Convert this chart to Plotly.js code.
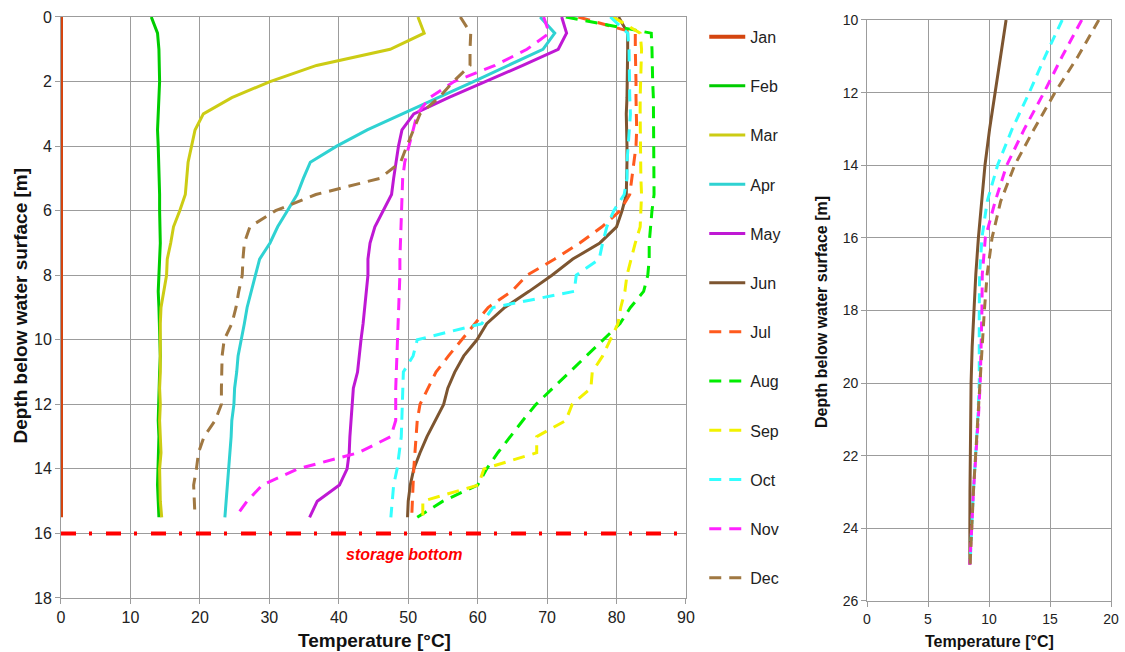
<!DOCTYPE html>
<html>
<head>
<meta charset="utf-8">
<script src="https://cdn.plot.ly/plotly-3.0.1.min.js"></script>
<style>html,body{margin:0;padding:0;background:#fff;}#chart{width:1125px;height:652px;}</style>
</head>
<body>
<div id="chart"></div>
<script>
// ---- Data: storage (left chart) ----
const depth = [0,0.5,1,1.5,2,2.5,3,3.5,4,4.5,5,5.5,6,6.5,7,7.5,8,8.5,9,9.5,10,10.5,11,11.5,12,12.5,13,13.5,14,14.5,15,15.5];
const jan = [0,0,0,0,0,0,0,0,0,0,0,0,0,0,0,0,0,0,0,0,0,0,0,0,0,0,0,0,0,0,0,0];
const feb = [13.0,13.9,14.1,14.2,14.2,14.1,14.0,13.9,14.0,14.1,14.1,14.2,14.2,14.3,14.3,14.2,14.1,14.0,14.1,14.2,14.2,14.3,14.2,14.1,14.0,14.0,14.1,14.0,13.9,13.9,14.0,14.1];
const mar = [51.4,52.3,47.4,36.8,30.1,24.6,20.5,19.3,18.8,18.3,18.1,17.9,17.1,16.2,15.8,15.3,15.2,14.8,14.4,14.3,14.3,14.4,14.3,14.2,14.3,14.2,14.3,14.4,14.2,14.2,14.3,14.5];
const apr = [69.0,71.1,69.4,64.5,59.4,54.3,49.2,44.1,39.7,35.9,34.9,34.0,32.6,31.2,30.1,28.6,28.0,27.4,26.8,26.4,25.9,25.5,25.3,25.0,24.9,24.6,24.5,24.3,24.1,23.9,23.7,23.6];
const may = [72.1,72.8,71.6,66.5,61.1,55.8,50.8,49.1,48.6,48.2,47.9,47.6,46.4,45.2,44.5,44.2,44.2,44.0,43.8,43.5,43.2,42.9,42.7,42.1,41.9,41.7,41.6,41.5,41.2,40.1,36.9,35.8];
const jun = [80.3,81.6,81.6,81.6,81.5,81.5,81.4,81.5,81.5,81.5,81.4,81.4,80.8,80.0,77.6,73.7,70.7,67.4,63.9,61.3,59.9,58.0,56.7,55.7,55.1,53.9,52.7,51.7,50.8,50.3,50.0,49.9];
const jul = [74.5,82.7,82.7,82.8,82.8,82.8,82.9,82.9,82.8,82.5,82.3,81.9,80.5,77.9,74.7,71.1,67.1,64.9,61.5,59.6,57.6,55.8,54.0,52.8,51.7,51.3,51.1,50.9,50.8,50.7,50.6,50.5];
const aug = [72.7,85.0,85.1,85.1,85.2,85.3,85.3,85.4,85.4,85.3,85.3,85.4,85.1,84.9,84.7,84.7,84.5,83.9,82.0,80.5,78.1,75.7,73.3,70.8,68.4,66.5,64.7,62.9,61.3,60.0,55.0,51.3];
const sep = [79.5,83.4,83.6,83.5,83.5,83.4,83.4,83.4,83.4,83.4,83.5,83.6,83.5,83.4,82.7,82.1,81.5,81.2,80.6,80.2,79.1,78.0,76.5,76.3,73.6,72.7,68.5,68.5,60.9,60.1,52.1,52.1];
const oct = [79.1,81.6,81.8,81.8,81.9,81.9,82.0,81.8,81.7,81.5,81.5,81.1,79.6,78.6,78.0,77.5,74.2,73.9,62.2,60.6,51.3,50.7,49.3,49.2,49.2,49.1,49.0,48.7,48.4,47.9,47.7,47.5];
const nov = [69.5,70.3,67.1,62.5,56.6,53.1,51.3,50.7,50.2,49.5,49.2,49.1,49.0,48.9,48.9,48.8,48.8,48.7,48.6,48.5,48.4,48.3,48.2,48.2,48.2,48.2,47.5,42.8,34.1,29.0,26.8,25.1];
const dec = [57.5,59.0,58.9,58.9,56.5,54.4,51.7,50.7,49.8,48.9,45.9,36.7,30.9,27.2,26.4,26.2,26.1,25.6,25.2,24.6,23.5,23.2,23.1,23.1,23.1,22.2,20.6,19.8,19.5,19.1,19.2,19.3];
const months = ["Jan","Feb","Mar","Apr","May","Jun","Jul","Aug","Sep","Oct","Nov","Dec"];
const storageBottomDepth = [16,16];
const storageBottomTemp = [0,90];

// ---- Data: ground below storage (right chart) ----
const gDepth = [10,11,12,13,14,15,16,17,18,19,20,21,22,23,24,25];
const gJun = [11.4,10.95,10.5,10.05,9.67,9.38,9.13,8.92,8.75,8.62,8.53,8.48,8.45,8.44,8.43,8.43];
const gOct = [16.0,14.6,13.3,11.9,10.7,9.85,9.42,9.23,9.2,9.2,9.2,9.08,8.88,8.72,8.58,8.45];
const gNov = [17.6,16.0,14.5,12.9,11.45,10.5,9.7,9.45,9.42,9.38,9.28,9.12,8.9,8.72,8.58,8.42];
const gDec = [19.0,17.3,15.4,13.7,12.1,10.95,10.25,9.85,9.62,9.45,9.28,9.13,8.9,8.72,8.57,8.45];

const series = [jan,feb,mar,apr,may,jun,jul,aug,sep,oct,nov,dec];
const colors = ["#d4450f","#00cc00","#cccc14","#2fd2d2","#bf18d4","#7d5530","#ff5a1e","#00ee00","#f2f200","#33ffff","#ff22ff","#a07842"];
const dashes = ["solid","solid","solid","solid","solid","solid","12px,8px","12px,8px","12px,8px","12px,8px","12px,8px","12px,8px"];

const FONT = "Liberation Sans, Arial, sans-serif";
const traces = series.map((s,i)=>({
  type:"scatter", mode:"lines", x:s, y:depth, name:months[i],
  legendgroup:"g"+i,
  line:{color:colors[i], width:(i===0?4:3), dash:dashes[i]},
  xaxis:"x", yaxis:"y", hoverinfo:"skip"
}));
traces.push({type:"scatter",mode:"lines",x:storageBottomTemp,y:storageBottomDepth,showlegend:false,
  line:{color:"#ff0000",width:4,dash:"15px,13px,3px,14px"},xaxis:"x",yaxis:"y",hoverinfo:"skip"});
const ground = [[gJun,"#7d5530","solid"],[gOct,"#33ffff","10px,7px"],[gNov,"#ff22ff","10px,7px"],[gDec,"#a07842","10px,7px"]];
ground.forEach(g=>traces.push({type:"scatter",mode:"lines",x:g[0],y:gDepth,showlegend:false,
  line:{color:g[1],width:3,dash:g[2]},xaxis:"x2",yaxis:"y2",hoverinfo:"skip"}));

const grid = "#9c9c9c";
const axBase = {showgrid:true,gridcolor:grid,gridwidth:1,showline:true,linecolor:grid,linewidth:1,mirror:true,
  ticks:"outside",ticklen:5,tickcolor:grid,zeroline:false,fixedrange:true,layer:"below traces"};
const layout = {
  width:1125,height:652,margin:{l:0,r:0,t:0,b:0},
  paper_bgcolor:"#fff",plot_bgcolor:"#fff",
  font:{family:FONT,color:"#222"},
  showlegend:true,
  legend:{x:0.626,y:0.9697,xanchor:"left",yanchor:"top",font:{size:16,family:FONT,color:"#222"},
    tracegroupgap:25.4,itemwidth:36,bgcolor:"rgba(0,0,0,0)"},
  xaxis:Object.assign({},axBase,{domain:[0.05422,0.60978],range:[0,90],tick0:0,dtick:10,anchor:"y",
    tickfont:{size:16,family:FONT,color:"#222"}}),
  yaxis:Object.assign({},axBase,{domain:[0.08282,0.97393],range:[18,0],tick0:0,dtick:2,anchor:"x",
    tickfont:{size:16,family:FONT,color:"#222"}}),
  xaxis2:Object.assign({},axBase,{domain:[0.77067,0.98756],range:[0,20],tick0:0,dtick:5,anchor:"y2",
    tickfont:{size:14,family:FONT,color:"#222"}}),
  yaxis2:Object.assign({},axBase,{domain:[0.07822,0.96933],range:[26,10],tick0:10,dtick:2,anchor:"x2",
    tickfont:{size:14,family:FONT,color:"#222"}}),
  annotations:[
    {text:"<b>Depth below water surface [m]</b>",xref:"paper",yref:"paper",x:20/1125,y:1-305.5/652,
      textangle:-90,showarrow:false,xanchor:"center",yanchor:"middle",font:{size:19,family:FONT,color:"#111"}},
    {text:"<b>Temperature [°C]</b>",xref:"paper",yref:"paper",x:374.5/1125,y:1-640/652,
      showarrow:false,xanchor:"center",yanchor:"middle",font:{size:19,family:FONT,color:"#111"}},
    {text:"<b>Depth below water surface [m]</b>",xref:"paper",yref:"paper",x:821/1125,y:1-312/652,
      textangle:-90,showarrow:false,xanchor:"center",yanchor:"middle",font:{size:16,family:FONT,color:"#111"}},
    {text:"<b>Temperature [°C]</b>",xref:"paper",yref:"paper",x:989/1125,y:1-641.7/652,
      showarrow:false,xanchor:"center",yanchor:"middle",font:{size:16,family:FONT,color:"#111"}},
    {text:"<b><i>storage bottom</i></b>",xref:"x",yref:"y",x:49.4,y:16.65,showarrow:false,
      xanchor:"center",yanchor:"middle",font:{size:16,family:FONT,color:"#ff0000"}}
  ]
};
Plotly.newPlot("chart",traces,layout,{displayModeBar:false,staticPlot:true});
</script>
</body>
</html>
